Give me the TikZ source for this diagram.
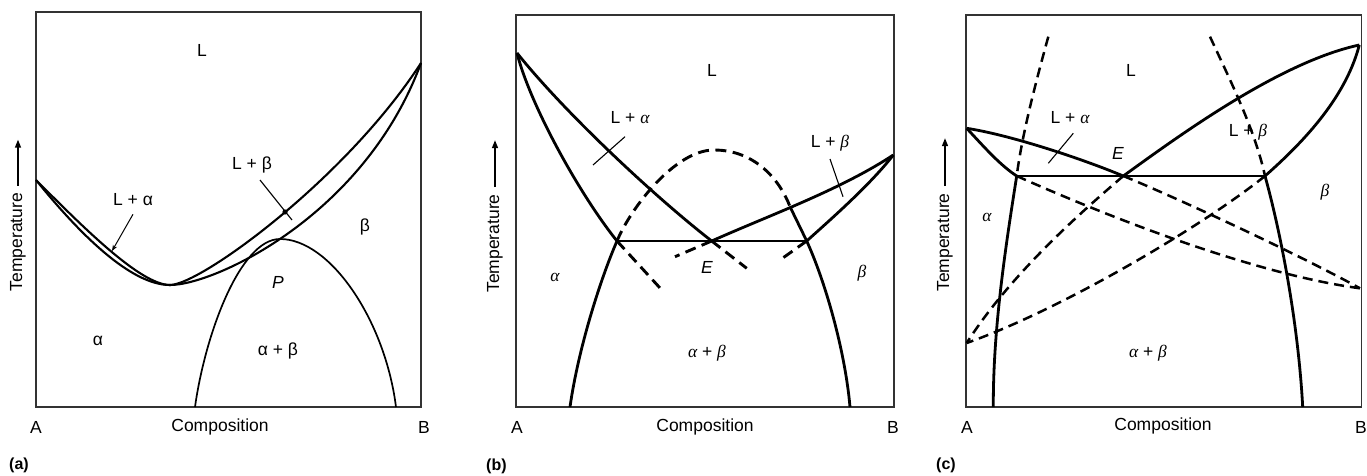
\documentclass[tikz,border=0pt]{standalone}
\usepackage{fontspec}
\setmainfont{Liberation Sans}
\newfontfamily\grkfont{Liberation Serif}
\newcommand{\ga}{{\grkfont\itshape α}}
\newcommand{\gb}{{\grkfont\itshape β}}
\usetikzlibrary{arrows.meta}
\begin{document}
\begin{tikzpicture}[x=1pt,y=-1pt,
  frame/.style={line width=1.1pt, draw=black!80},
  phasea/.style={line width=2.1pt, line join=round},
  domea/.style={line width=1.7pt},
  phase/.style={line width=2.8pt, line join=round},
  meta/.style={line width=2.9pt, dash pattern=on 11pt off 6.5pt},
  metac/.style={line width=2.5pt, dash pattern=on 10pt off 6pt},
  tickmark/.style={line width=1.1pt},
  lbl/.style={font=\fontsize{17.5}{20}\selectfont, inner sep=0pt},
  panelcap/.style={font=\bfseries\fontsize{16}{19}\selectfont, inner sep=0pt, anchor=west},
  uparrow/.style={line width=1.5pt, -{Triangle[length=8pt,width=6pt]}},
]
\useasboundingbox (0,0) rectangle (1367,476);
\fill[white] (0,0) rectangle (1367,476);

% ================= Panel (a) =================
\draw[frame] (36,12) rectangle (421,407);
\coordinate (aA) at (36,180);
\coordinate (aM) at (170,285);
\coordinate (aB) at (421,63);
\coordinate (aP) at (280,239);
\draw[phasea] (aA) .. controls (80,224) and (140,285) .. (aM) .. controls (200,285) and (345,180) .. (aB);
\draw[phasea] (aA) .. controls (78,232) and (130,285) .. (aM) .. controls (215,285) and (365,215) .. (aB);
\draw[domea] (195,407) .. controls (205,335) and (240,239) .. (aP) .. controls (330,239) and (385,320) .. (396,407);

\node[lbl] (aL) at (202,50) {L};
\node[lbl] (aLa) at (133,200) {L + α};
\node[lbl] (aLb) at (252,165) {L + β};
\node[lbl] (ab) at (365,227) {β};
\node[lbl] (aPP) at (278,282) {\itshape P};
\node[lbl] (aa) at (98,341) {α};
\node[lbl] (aab) at (278,351) {α + β};
\coordinate (aLaTip) at (112,251);
\coordinate (aLbEnd) at (292,220);
\draw[line width=1pt, -{Stealth[length=6pt,width=4.5pt]}] (aLa.south) ++(0,8) -- (aLaTip);
\draw[tickmark] (260,180) -- (aLbEnd);
\fill (285,212) circle (2.6);

\node[lbl] (aAx) at (36,427) {A};
\node[lbl] (aComp) at (220,427) {Composition};
\node[lbl] (aBx) at (424,427) {B};
\node[panelcap] (acap) at (9,465) {(a)};
\node[lbl, rotate=90] (aT) at (18,242) {Temperature};
\draw[uparrow] ([yshift=7pt]aT.east) -- ++(0,-46);

% ================= Panel (b) =================
\draw[frame] (516,15) rectangle (894,407);
\coordinate (bA) at (517,53);
\coordinate (bE) at (711.7,241);
\coordinate (bSa) at (617,241);
\coordinate (bSb) at (806.7,241);
\coordinate (bB) at (893.3,155);
\coordinate (bD) at (790,206.7);
\coordinate (bP) at (714,150);
\draw[phase] (bA) .. controls (565,113) and (655,197) .. (bE);
\draw[phase] (bA) .. controls (530,105) and (580,195) .. (bSa);
\draw[phase] (bSa) .. controls (600,280) and (578,350) .. (570,407);
\draw[phase] (bSa) -- (bSb);
\draw[phase] (bE) .. controls (770,215) and (840,190) .. (bB);
\draw[phase] (bSb) .. controls (830,220) and (870,185) .. (bB);
\draw[phase] (bD) -- (bSb) .. controls (825,281) and (845,350) .. (850,407);
\draw[meta] (bSa) .. controls (630.7,208) and (675,150) .. (bP) .. controls (755,150) and (780,180) .. (bD);
\draw[meta] (bSa) -- (660,288);
\draw[meta] (bE) -- (746.7,268.3);
\draw[meta] (bE) -- (675,256.7);
\draw[meta] (bSb) -- (780,260);
\draw[tickmark] (625,136.7) -- (593,165);
\draw[tickmark] (830,159) -- (843,196.7);

\node[lbl] (bL) at (712,70) {L};
\node[lbl] (bLa) at (630,118) {L + \ga};
\node[lbl] (bLb) at (830,143) {L + \gb};
\node[lbl] (bEE) at (707,267) {\itshape E};
\node[lbl] (ba) at (555,277) {\ga};
\node[lbl] (bb) at (862,273) {\gb};
\node[lbl] (bab) at (707,353) {\ga{} + \gb};
\node[lbl] (bAx) at (517,427) {A};
\node[lbl] (bComp) at (705,427) {Composition};
\node[lbl] (bBx) at (893,427) {B};
\node[panelcap] (bcap) at (486,466) {(b)};
\node[lbl, rotate=90] (bT) at (495,243.5) {Temperature};
\draw[uparrow] ([yshift=7pt]bT.east) -- ++(0,-47);

% ================= Panel (c) =================
\draw[frame] (966,15) rectangle (1361.7,407);
\coordinate (cA) at (966.7,128.3);
\coordinate (cSa) at (1016.7,176);
\coordinate (cE) at (1123.3,176);
\coordinate (cSb) at (1265,176);
\coordinate (cB) at (1359.3,45);
\coordinate (cR) at (1360,288.3);
\coordinate (cL) at (966.7,343);
\draw[phase] (cA) .. controls (1010,135) and (1080,158) .. (cE);
\draw[phase] (cA) .. controls (985,148) and (1000,165) .. (cSa);
\draw[phase] (cSa) .. controls (1005,250) and (993,330) .. (993.3,407);
\draw[phase] (cSa) -- (cSb);
\draw[phase] (cE) .. controls (1180,135) and (1280,62) .. (cB);
\draw[phase] (cSb) .. controls (1300,145) and (1345,100) .. (cB);
\draw[phase] (cSb) .. controls (1280,230) and (1298,320) .. (1302.7,407);
\draw[metac] (1048.3,36.7) .. controls (1035,85) and (1022,135) .. (cSa);
\draw[metac] (1210,36.7) .. controls (1230,80) and (1255,130) .. (cSb);
\draw[metac] (cSa) .. controls (1120,222) and (1260,275) .. (cR);
\draw[metac] (cE) .. controls (1170,195) and (1290,250) .. (cR);
\draw[metac] (cE) .. controls (1080,213) and (1010,275) .. (cL);
\draw[metac] (cSb) .. controls (1200,228) and (1060,310) .. (cL);
\draw[tickmark] (1073.3,133.3) -- (1048.3,163.3);

\node[lbl] (cL1) at (1131,70) {L};
\node[lbl] (cLa) at (1070,118) {L + \ga};
\node[lbl] (cLb) at (1248,132) {L + \gb};
\node[lbl] (cEE) at (1118,153) {\itshape E};
\node[lbl] (cb) at (1325,192) {\gb};
\node[lbl] (ca) at (987,217) {\ga};
\node[lbl] (cab) at (1148,353) {\ga{} + \gb};
\node[lbl] (cAx) at (967,427) {A};
\node[lbl] (cComp) at (1163,426) {Composition};
\node[lbl] (cBx) at (1361,427) {B};
\node[panelcap] (ccap) at (936,465) {(c)};
\node[lbl, rotate=90] (cT) at (945,242.5) {Temperature};
\draw[uparrow] ([yshift=7pt]cT.east) -- ++(0,-48);
\end{tikzpicture}
\end{document}
